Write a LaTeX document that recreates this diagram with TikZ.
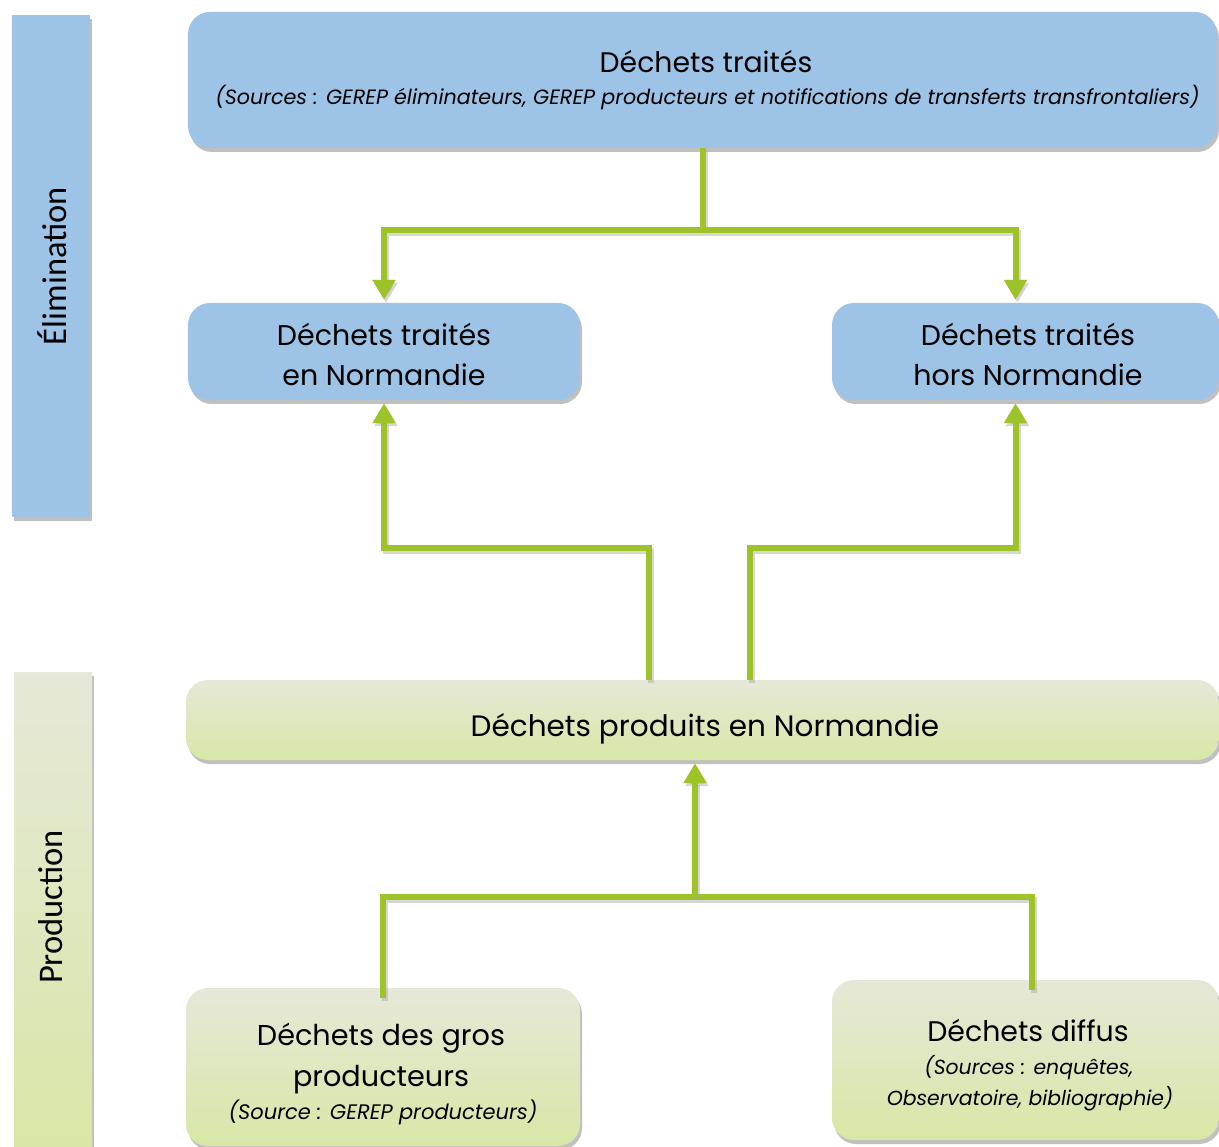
\documentclass[tikz,border=0pt]{standalone}
\usepackage{fontspec}
\setmainfont{Poppins}
\newfontfamily\sidefont{Carlito}
\usetikzlibrary{arrows.meta,shadows}
\definecolor{boxblue}{RGB}{157,195,230}
\definecolor{flowgreen}{RGB}{158,195,40}
\definecolor{palegreen}{RGB}{230,232,216}
\definecolor{limegreen}{RGB}{216,231,166}
\begin{document}
\begin{tikzpicture}[x=1pt,y=-1pt,
  boxshadow/.style={drop shadow={shadow xshift=2pt,shadow yshift=-4pt,opacity=0.35,fill=black!70}},
  bluebox/.style={boxshadow,fill=boxblue,draw=none,rounded corners=22pt,inner sep=0pt},
  greenbox/.style={boxshadow,top color=palegreen,bottom color=limegreen,draw=none,rounded corners=22pt,inner sep=0pt},
  sidebar/.style={boxshadow,draw=none,inner sep=0pt},
  sidetxt/.style={rotate=90,font=\sidefont\fontsize{34.5}{40}\selectfont},
  boxtxt/.style={inner sep=0pt,align=center,font=\fontsize{#1}{40}\selectfont},
  srctxt/.style={inner sep=0pt,font=\itshape\fontsize{#1}{30}\selectfont},
  conn/.style={draw=flowgreen,line width=6pt,line join=miter,
    preaction={draw=black!35,opacity=0.45,line width=6pt,transform canvas={shift={(2pt,-3pt)}}}},
  arr/.style={conn,-{Triangle[width=22pt,length=20pt]},shorten >=3pt}]
\useasboundingbox[fill=white] (0,0) rectangle (1219,1147);

% side bars
\node[sidebar,fill=boxblue,minimum width=78pt,minimum height=502pt] (elim) at (51,266) {};
\node[sidebar,top color=palegreen,bottom color=limegreen,minimum width=78pt,minimum height=480pt] (prodbar) at (53,912) {};
\node[sidetxt] (elimlbl) at (52,266) {Élimination};
\node[sidetxt] (prodlbl) at (51,907) {Production};

% treated waste
\node[bluebox,minimum width=1029pt,minimum height=136pt] (top) at (702.5,80) {};
\node[boxtxt=28.3] (toptitle) at ([xshift=3.5pt,yshift=18pt]top.center) {Déchets traités};
\node[srctxt=20.7] (topsrc) at ([xshift=5pt,yshift=-18pt]top.center)
  {(Sources : GEREP éliminateurs, GEREP producteurs et notifications de transferts transfrontaliers)};

\node[bluebox,minimum width=392pt,minimum height=97pt] (ml) at (384,351.5) {};
\node[boxtxt=28.5] (mltxt) at ([yshift=-2.5pt]ml.center) {Déchets traités\\en Normandie};
\node[bluebox,minimum width=387pt,minimum height=97pt] (mr) at (1025.5,351.5) {};
\node[boxtxt=28.5] (mrtxt) at ([xshift=2.5pt,yshift=-2.5pt]mr.center) {Déchets traités\\hors Normandie};

% produced waste
\node[greenbox,minimum width=1033pt,minimum height=80pt] (prod) at (702.5,720) {};
\node[boxtxt=29.5] (prodtxt) at ([xshift=2.5pt,yshift=-8.5pt]prod.center) {Déchets produits en Normandie};

\node[greenbox,minimum width=394pt,minimum height=158pt] (bl) at (383,1067) {};
\node[boxtxt=28.7] (bl1) at ([xshift=-2pt,yshift=29pt]bl.center) {Déchets des gros};
\node[boxtxt=28.7] (bl2) at ([xshift=-2pt,yshift=-13pt]bl.center) {producteurs};
\node[srctxt=21] (bl3) at ([yshift=-45.5pt]bl.center) {(Source : GEREP producteurs)};

\node[greenbox,minimum width=387pt,minimum height=160pt] (br) at (1025.5,1060) {};
\node[boxtxt=28.4] (br1) at ([xshift=2.5pt,yshift=29pt]br.center) {Déchets diffus};
\node[srctxt=20.4] (br2) at ([xshift=3.5pt,yshift=-8pt]br.center) {(Sources : enquêtes,};
\node[srctxt=20.4] (br3) at ([xshift=4.5pt,yshift=-39pt]br.center) {Observatoire, bibliographie)};

% junctions
\coordinate (j1) at (702.5,230);
\coordinate (j3) at (695,897);
\coordinate (pl) at ([xshift=-53.5pt]prod.north);
\coordinate (pr) at ([xshift=47.5pt]prod.north);

% treated waste split
\draw[conn] (top.south) -- (j1);
\draw[arr] (j1) -| (ml.north);
\draw[arr] (j1) -| ([xshift=-10pt]mr.north);

% produced waste going to treatment
\draw[arr] (pl) -- ++(0,-132) -| (ml.south);
\draw[arr] (pr) -- ++(0,-132) -| ([xshift=-10pt]mr.south);

% sources of produced waste
\draw[conn] ([yshift=-10pt]bl.north) |- (j3) -| ([xshift=6.5pt,yshift=-10pt]br.north);
\draw[arr] (j3) -- ([xshift=-7.5pt]prod.south);
\end{tikzpicture}
\end{document}
